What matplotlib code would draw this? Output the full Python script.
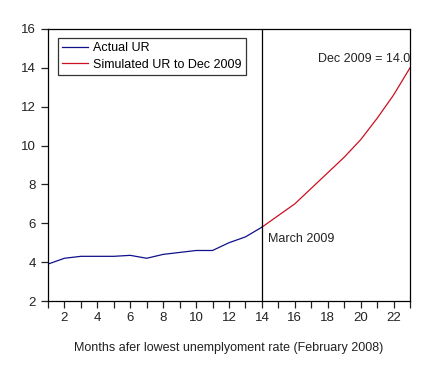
import matplotlib
matplotlib.use("Agg")
import matplotlib.pyplot as plt
from matplotlib.ticker import MultipleLocator

plt.rcParams['font.family'] = ['Liberation Sans', 'DejaVu Sans']

actual_months = [1, 2, 3, 4, 5, 6, 7, 8, 9, 10, 11, 12, 13, 14]
actual_ur = [3.9, 4.2, 4.3, 4.3, 4.3, 4.35, 4.2, 4.4, 4.5, 4.6, 4.6, 5.0, 5.3, 5.8]
sim_months = [14, 15, 16, 17, 18, 19, 20, 21, 22, 23]
sim_ur = [5.8, 6.4, 7.0, 7.8, 8.6, 9.4, 10.3, 11.4, 12.6, 14.0]

fig = plt.figure(figsize=(4.41, 3.75), dpi=100)
ax = fig.add_axes([0.1088, 0.1973, 0.8209, 0.7254])

ax.plot(sim_months, sim_ur, color='#CC1020', lw=0.9, label='Simulated UR to Dec 2009')
ax.plot(actual_months, actual_ur, color='#10108C', lw=0.9, label='Actual UR')
ax.axvline(14, color='black', lw=0.9)

ax.set_xlim(1, 23)
ax.set_ylim(2, 16)
ax.xaxis.set_major_locator(MultipleLocator(2))
ax.xaxis.set_minor_locator(MultipleLocator(1))
ax.yaxis.set_major_locator(MultipleLocator(2))
ax.tick_params(axis='both', which='both', direction='out', length=5, width=0.9,
               labelsize=9.5, colors='#222222', top=False, right=False)
ax.tick_params(axis='x', which='major', pad=3)
for s in ax.spines.values():
    s.set_linewidth(0.9)

handles, labels = ax.get_legend_handles_labels()
leg = ax.legend(handles[::-1], labels[::-1], loc='upper left', bbox_to_anchor=(0.027, 0.967),
                frameon=True, fancybox=False, edgecolor='black', fontsize=9,
                handlelength=2.1, handletextpad=0.35, borderpad=0.35, labelspacing=0.35,
                borderaxespad=0)
leg.get_frame().set_linewidth(0.9)

ax.text(23, 14.45, 'Dec 2009 = 14.0', ha='right', va='center', fontsize=9, color='#222222')
ax.text(14.4, 5.19, 'March 2009', ha='left', va='center', fontsize=9, color='#222222')

fig.text(0.519, 0.073, 'Months afer lowest unemplyoment rate (February 2008)',
         ha='center', va='center', fontsize=9, color='#222222')

fig.savefig('out.png', dpi=100)
